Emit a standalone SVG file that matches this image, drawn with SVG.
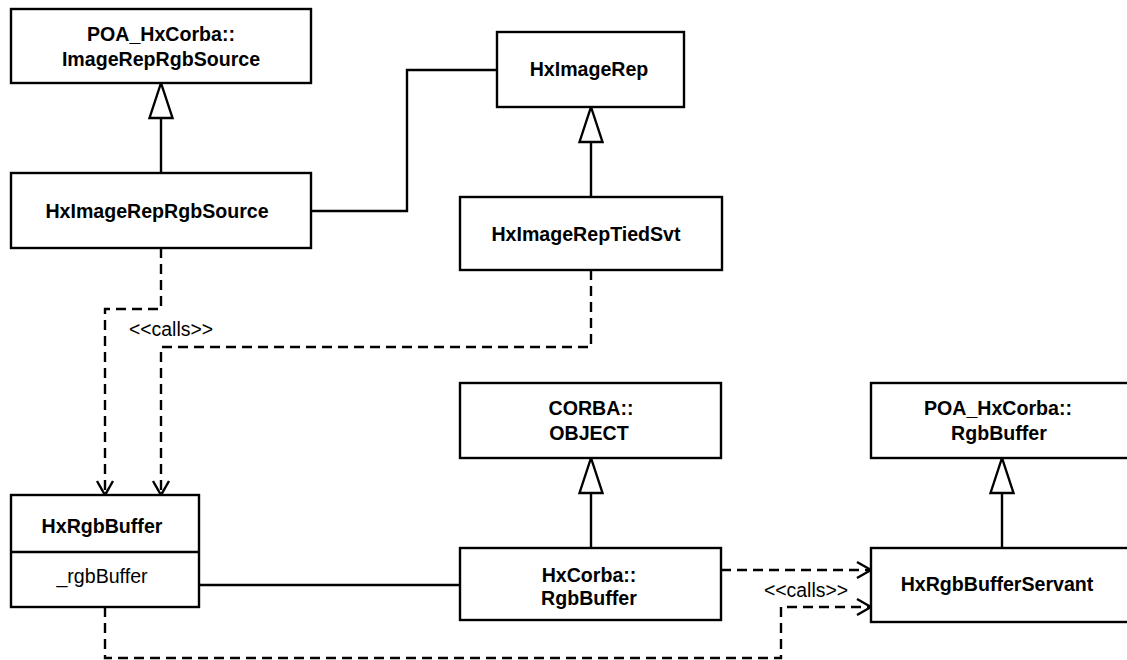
<svg xmlns="http://www.w3.org/2000/svg" width="1127" height="660" viewBox="0 0 1127 660">
  <style>
    .box { fill: #fff; stroke: #000; stroke-width: 2.4; }
    .line { fill: none; stroke: #000; stroke-width: 2.4; }
    .dash { fill: none; stroke: #000; stroke-width: 2.4; stroke-dasharray: 10 6; }
    .gen { marker-end: url(#gen); }
    .dep { marker-end: url(#open); }
    text { font-family: "Liberation Sans", Arial, Helvetica, sans-serif; font-size: 19.6px; fill: #000; text-anchor: middle; }
    .name { font-weight: bold; }
    .lbl { font-size: 19.4px; }
  </style>
  <defs>
    <!-- hollow triangle for generalization -->
    <marker id="gen" markerUnits="userSpaceOnUse" markerWidth="40" markerHeight="28" viewBox="0 0 40 28" refX="36" refY="12.5" orient="auto" overflow="visible">
      <path d="M1,1 L36,12.5 L1,24 Z" fill="#fff" stroke="#000" stroke-width="2.4"/>
    </marker>
    <!-- open arrowhead for dependencies -->
    <marker id="open" markerUnits="userSpaceOnUse" markerWidth="18" markerHeight="20" viewBox="0 0 18 20" refX="15" refY="9" orient="auto" overflow="visible">
      <path d="M1,1 L15,9 L1,17" fill="none" stroke="#000" stroke-width="2.4"/>
    </marker>
  </defs>

  <rect width="1127" height="660" fill="#fff"/>

  <g id="connectors">
    <path class="line gen" d="M161,173 V83"/>
    <path class="line gen" d="M591,197 V107"/>
    <path class="line gen" d="M591,548 V458"/>
    <path class="line gen" d="M1002,548 V458"/>
    <path class="line" d="M311,211 H407 V70 H497"/>
    <path class="line" d="M199,585 H460"/>
    <path class="dash dep" d="M161,248 V309 H105 V495"/>
    <path class="dash dep" d="M591,270 V347 H161 V495"/>
    <path class="dash dep" d="M721,570 H871"/>
    <path class="dash dep" d="M105,607 V658 H781 V607 H871"/>
    <text class="lbl" x="171" y="336">&lt;&lt;calls&gt;&gt;</text>
    <text class="lbl" x="806" y="597">&lt;&lt;calls&gt;&gt;</text>
  </g>

  <g id="poa-imagereprgbsource">
    <rect class="box" x="11" y="9" width="300" height="74"/>
    <text class="name" x="161" y="41">POA_HxCorba::</text>
    <text class="name" x="161" y="66">ImageRepRgbSource</text>
  </g>

  <g id="hximagereprgbsource">
    <rect class="box" x="11" y="173" width="300" height="75"/>
    <text class="name" x="157" y="218">HxImageRepRgbSource</text>
  </g>

  <g id="hximagerep">
    <rect class="box" x="497" y="32" width="187" height="75"/>
    <text class="name" x="589" y="76">HxImageRep</text>
  </g>

  <g id="hximagereptiedsvt">
    <rect class="box" x="460" y="197" width="262" height="73"/>
    <text class="name" x="586" y="241">HxImageRepTiedSvt</text>
  </g>

  <g id="hxrgbbuffer">
    <rect class="box" x="11" y="495" width="188" height="112"/>
    <line class="line" x1="11" y1="552" x2="199" y2="552"/>
    <text class="name" x="102" y="533">HxRgbBuffer</text>
    <text x="102" y="583">_rgbBuffer</text>
  </g>

  <g id="corba-object">
    <rect class="box" x="460" y="383" width="261" height="75"/>
    <text class="name" x="591" y="415">CORBA::</text>
    <text class="name" x="589" y="440">OBJECT</text>
  </g>

  <g id="hxcorba-rgbbuffer">
    <rect class="box" x="460" y="548" width="261" height="72"/>
    <text class="name" x="589" y="582">HxCorba::</text>
    <text class="name" x="589" y="605">RgbBuffer</text>
  </g>

  <g id="poa-rgbbuffer">
    <rect class="box" x="871" y="383" width="270" height="75"/>
    <text class="name" x="998" y="415">POA_HxCorba::</text>
    <text class="name" x="999" y="440">RgbBuffer</text>
  </g>

  <g id="hxrgbbufferservant">
    <rect class="box" x="871" y="548" width="270" height="74"/>
    <text class="name" x="997" y="591">HxRgbBufferServant</text>
  </g>
</svg>
